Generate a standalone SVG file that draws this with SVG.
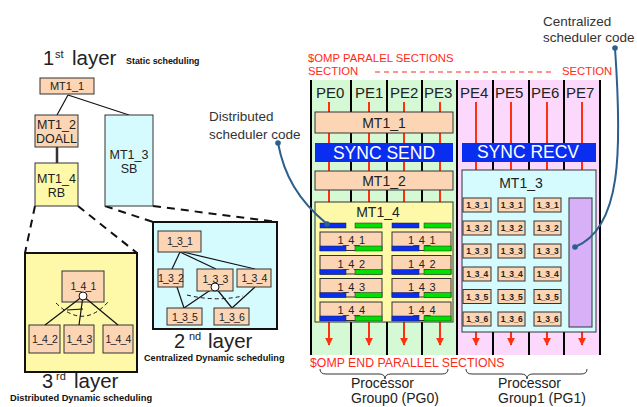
<svg xmlns="http://www.w3.org/2000/svg" width="637" height="407" viewBox="0 0 637 407">
<defs>
<style>
text{font-family:"Liberation Sans",Arial,sans-serif;fill:#222}
.pe{fill:#fcd5b4;stroke:#333;stroke-width:1}
.lbl{font-size:10.5px;letter-spacing:-0.8px;text-anchor:middle}
.lbl2{font-size:11px;letter-spacing:-0.7px;text-anchor:middle}
.sm{font-size:8.5px;font-weight:bold;letter-spacing:-0.4px;text-anchor:middle}
.mid{text-anchor:middle}
.red{fill:#ff2a1a}
.bold{font-weight:bold;fill:#111}
.col{stroke:#000;stroke-width:2}
.tick{stroke:#ff3010;stroke-width:2}
.ln{stroke:#111;stroke-width:1.2;fill:none}
.dash{stroke:#111;stroke-width:2;stroke-dasharray:8,6;fill:none}
.dash2{stroke:#111;stroke-width:1;stroke-dasharray:4,3;fill:none}
.bb{fill:#0a2ef0;stroke:#222;stroke-width:0.5}
.gb{fill:#00e000;stroke:#222;stroke-width:0.5}
.call{stroke:#2b5f8e;stroke-width:2;fill:none}
.dot{fill:#2b5f8e}
.brace{stroke:#333;stroke-width:1;fill:none}
</style>
<marker id="arr" viewBox="0 0 10 10" refX="9" refY="5" markerWidth="4" markerHeight="4" orient="auto">
<path d="M0,0 L10,5 L0,10 z" fill="#ff3010"/>
</marker>
</defs>

<!-- left tree -->
<g id="title1">
<text x="43" y="65" font-size="20">1</text><text x="55" y="58" font-size="11">st</text><text x="72" y="65" font-size="20.5">layer</text>
<text x="126" y="64" font-size="8.9" class="bold">Static scheduling</text>
</g>
<g id="tree-connectors">
<line class="ln" x1="68" y1="95" x2="57" y2="115"/>
<line class="ln" x1="68" y1="95" x2="129" y2="115"/>
<line x1="57" y1="147" x2="57" y2="163" stroke="#333" stroke-width="2.5"/>
<line class="dash" x1="35" y1="206" x2="25" y2="253"/>
<line class="dash" x1="78" y1="206" x2="137" y2="253"/>
<line class="dash" x1="105" y1="206" x2="153" y2="222"/>
<line class="dash" x1="153" y1="206" x2="277" y2="222"/>
</g>
<g id="t-mt1_1"><rect class="pe" x="40" y="78" width="54" height="16"/><text x="67" y="90" font-size="11" class="mid">MT1_1</text></g>
<g id="t-mt1_2"><rect class="pe" x="35" y="115" width="43" height="32"/><text x="56.5" y="129" font-size="12.5" class="mid">MT1_2</text><text x="56.5" y="143" font-size="12.5" class="mid">DOALL</text></g>
<g id="t-mt1_4"><rect x="35" y="163" width="43" height="43" fill="#fdf9a8" stroke="#333"/><text x="56.5" y="183" font-size="12.5" class="mid">MT1_4</text><text x="56.5" y="197" font-size="12.5" class="mid">RB</text></g>
<g id="t-mt1_3"><rect x="105" y="115" width="48" height="91" fill="#d5fbff" stroke="#333"/><text x="129" y="159" font-size="12.5" class="mid">MT1_3</text><text x="129" y="173" font-size="12.5" class="mid">SB</text></g>

<g id="layer3">
<rect x="25" y="253" width="112" height="119" fill="#fdf9a8" stroke="#111" stroke-width="2"/>
<g id="n141"><rect class="pe" x="62" y="271" width="42" height="31"/><text x="83" y="290" class="lbl">1_4_1</text></g>
<g id="n142"><rect class="pe" x="29" y="325" width="31" height="28"/><text x="44.5" y="343" class="lbl">1_4_2</text></g>
<g id="n143"><rect class="pe" x="64" y="325" width="30" height="28"/><text x="79" y="343" class="lbl">1_4_3</text></g>
<g id="n144"><rect class="pe" x="103" y="325" width="30" height="28"/><text x="118" y="343" class="lbl">1_4_4</text></g>
<g id="l3-edges">
<line class="ln" x1="83" y1="296" x2="45" y2="325"/>
<line class="ln" x1="83" y1="296" x2="79" y2="325"/>
<line class="ln" x1="83" y1="296" x2="118" y2="325"/>
<path class="dash2" d="M56,303 Q83,330 108,302"/>
<line class="ln" x1="67" y1="310" x2="83" y2="309"/>
</g>
<circle cx="83" cy="296" r="4" fill="#fff" stroke="#111"/>
</g>
<g id="title3">
<text x="42" y="388" font-size="20">3</text><text x="56" y="380" font-size="11">rd</text><text x="74" y="388" font-size="20.5">layer</text>
<text x="10" y="401" font-size="9.3" class="bold">Distributed Dynamic scheduling</text>
</g>

<g id="layer2">
<rect x="153" y="222" width="124" height="107" fill="#d5fbff" stroke="#111" stroke-width="2"/>
<g id="l2-edges">
<line class="ln" x1="180" y1="252" x2="172" y2="269"/>
<line class="ln" x1="180" y1="252" x2="216" y2="269"/>
<line class="ln" x1="183" y1="252" x2="255" y2="269"/>
<line class="ln" x1="177" y1="287" x2="184" y2="308"/>
<line class="ln" x1="215" y1="287" x2="184" y2="308"/>
<line class="ln" x1="215" y1="287" x2="232" y2="308"/>
<line class="ln" x1="255" y1="287" x2="232" y2="308"/>
<path class="dash2" d="M187,295 Q215,302 243,296"/>
</g>
<g id="n131"><rect class="pe" x="158" y="231" width="43" height="21"/><text x="179.5" y="245" class="lbl">1_3_1</text></g>
<g id="n132"><rect class="pe" x="158" y="269" width="25" height="18"/><text x="170.5" y="282" class="lbl">1_3_2</text></g>
<g id="n133"><rect class="pe" x="197" y="269" width="36" height="22"/><text x="215" y="283" class="lbl">1_3_3</text></g>
<g id="n134"><rect class="pe" x="237" y="269" width="34" height="18"/><text x="254" y="282" class="lbl">1_3_4</text></g>
<g id="n135"><rect class="pe" x="167" y="308" width="35" height="17"/><text x="184.5" y="321" class="lbl">1_3_5</text></g>
<g id="n136"><rect class="pe" x="214" y="308" width="35" height="17"/><text x="231.5" y="321" class="lbl">1_3_6</text></g>
<circle cx="215" cy="287" r="4" fill="#fff" stroke="#111"/>
</g>
<g id="title2">
<text x="174" y="348" font-size="20">2</text><text x="189" y="340" font-size="11">nd</text><text x="208" y="348" font-size="20.5">layer</text>
<text x="144" y="361" font-size="9.15" class="bold">Centralized Dynamic scheduling</text>
</g>

<!-- right: processor layout -->
<g id="pg-bg">
<rect x="311" y="80" width="146" height="275" fill="#d5f8d5"/>
<rect x="457" y="80" width="143" height="275" fill="#fcd8fc"/>
</g>
<g id="omp-text">
<text x="308" y="62" font-size="11.3" class="red">$OMP PARALEL SECTIONS</text>
<text x="308" y="75" font-size="11.3" class="red">SECTION</text>
<line x1="375" y1="72" x2="552" y2="72" stroke="#ff2a1a" stroke-width="1.2" stroke-dasharray="5,4"/>
<text x="562" y="75" font-size="11.3" class="red">SECTION</text>
<text x="310" y="367" font-size="12.3" class="red">$OMP END PARALLEL SECTIONS</text>
</g>
<g id="connectors">
<g id="pe-lines">
<line class="col" x1="311" y1="80" x2="311" y2="355"/>
<line class="col" x1="351" y1="80" x2="351" y2="355"/>
<line class="col" x1="387" y1="80" x2="387" y2="355"/>
<line class="col" x1="422" y1="80" x2="422" y2="355"/>
<line class="col" x1="457" y1="80" x2="457" y2="355"/>
<line class="col" x1="493" y1="80" x2="493" y2="355"/>
<line class="col" x1="529" y1="80" x2="529" y2="355"/>
<line class="col" x1="564" y1="80" x2="564" y2="355"/>
<line class="col" x1="600" y1="80" x2="600" y2="355"/>
</g>
<g id="ticks">
<line class="tick" x1="329" y1="102" x2="329" y2="202"/>
<line class="tick" x1="369" y1="102" x2="369" y2="202"/>
<line class="tick" x1="404" y1="102" x2="404" y2="202"/>
<line class="tick" x1="440" y1="102" x2="440" y2="202"/>
<line class="tick" x1="476" y1="102" x2="476" y2="170"/>
<line class="tick" x1="511" y1="102" x2="511" y2="170"/>
<line class="tick" x1="547" y1="102" x2="547" y2="170"/>
<line class="tick" x1="582" y1="102" x2="582" y2="170"/>
</g>
<g id="end-arrows">
<line class="tick" x1="329" y1="322" x2="329" y2="345" marker-end="url(#arr)"/>
<line class="tick" x1="369" y1="322" x2="369" y2="345" marker-end="url(#arr)"/>
<line class="tick" x1="404" y1="322" x2="404" y2="345" marker-end="url(#arr)"/>
<line class="tick" x1="440" y1="322" x2="440" y2="345" marker-end="url(#arr)"/>
<line class="tick" x1="476" y1="332" x2="476" y2="345" marker-end="url(#arr)"/>
<line class="tick" x1="511" y1="332" x2="511" y2="345" marker-end="url(#arr)"/>
<line class="tick" x1="547" y1="332" x2="547" y2="345" marker-end="url(#arr)"/>
<line class="tick" x1="582" y1="332" x2="582" y2="345" marker-end="url(#arr)"/>
</g>
</g>
<g id="pe-labels" font-size="15">
<text x="316" y="98">PE0</text><text x="355" y="98">PE1</text><text x="390" y="98">PE2</text><text x="424" y="98">PE3</text>
<text x="460" y="98">PE4</text><text x="495" y="98">PE5</text><text x="531" y="98">PE6</text><text x="566" y="98">PE7</text>
</g>
<g id="r-mt1_1"><rect class="pe" x="315" y="112" width="138" height="21"/><text x="384" y="128" font-size="14" class="mid">MT1_1</text></g>
<g id="sync-send"><rect x="315" y="143" width="138" height="19" fill="#0a2ef0"/><text x="384" y="159" font-size="17.5" class="mid" style="fill:#fff">SYNC SEND</text></g>
<g id="sync-recv"><rect x="462" y="143" width="134" height="19" fill="#0a2ef0"/><text x="528" y="158" font-size="17.5" class="mid" style="fill:#fff">SYNC RECV</text></g>
<g id="r-mt1_2"><rect class="pe" x="315" y="171" width="138" height="19"/><text x="384" y="186" font-size="14" class="mid">MT1_2</text></g>

<g id="r-mt1_4">
<rect x="315" y="202" width="138" height="120" fill="#fdf9a8" stroke="#333"/>
<text x="378" y="217" font-size="14" class="mid">MT1_4</text>
<rect class="bb" x="320" y="223" width="26" height="5"/><rect class="gb" x="355" y="223" width="27" height="5"/>
<rect class="bb" x="392" y="223" width="27" height="5"/><rect class="gb" x="424" y="223" width="27" height="5"/>
<g id="r141">
<rect class="pe" x="320" y="232" width="62" height="18.5"/><text x="351" y="244" class="lbl2">1_4_1</text>
<rect class="bb" x="320" y="246" width="26" height="5"/><rect class="gb" x="355" y="246" width="27" height="5"/>
<rect class="pe" x="392" y="232" width="59" height="18.5"/><text x="421.5" y="244" class="lbl2">1_4_1</text>
<rect class="bb" x="392" y="246" width="27" height="5"/><rect class="gb" x="424" y="246" width="27" height="5"/>
</g>
<g id="r142">
<rect class="pe" x="320" y="255.5" width="62" height="18.5"/><text x="351" y="267.5" class="lbl2">1_4_2</text>
<rect class="bb" x="320" y="269.5" width="26" height="5"/><rect class="gb" x="355" y="269.5" width="27" height="5"/>
<rect class="pe" x="392" y="255.5" width="59" height="18.5"/><text x="421.5" y="267.5" class="lbl2">1_4_2</text>
<rect class="bb" x="392" y="269.5" width="27" height="5"/><rect class="gb" x="424" y="269.5" width="27" height="5"/>
</g>
<g id="r143">
<rect class="pe" x="320" y="278.5" width="62" height="18.5"/><text x="351" y="290.5" class="lbl2">1_4_3</text>
<rect class="bb" x="320" y="292.5" width="26" height="5"/><rect class="gb" x="355" y="292.5" width="27" height="5"/>
<rect class="pe" x="392" y="278.5" width="59" height="18.5"/><text x="421.5" y="290.5" class="lbl2">1_4_3</text>
<rect class="bb" x="392" y="292.5" width="27" height="5"/><rect class="gb" x="424" y="292.5" width="27" height="5"/>
</g>
<g id="r144">
<rect class="pe" x="320" y="302" width="62" height="18.5"/><text x="351" y="314" class="lbl2">1_4_4</text>
<rect class="bb" x="320" y="316" width="26" height="5"/><rect class="gb" x="355" y="316" width="27" height="5"/>
<rect class="pe" x="392" y="302" width="59" height="18.5"/><text x="421.5" y="314" class="lbl2">1_4_4</text>
<rect class="bb" x="392" y="316" width="27" height="5"/><rect class="gb" x="424" y="316" width="27" height="5"/>
</g>
</g>

<g id="r-mt1_3">
<rect x="462" y="170" width="134" height="162" fill="#d5fbff" stroke="#333"/>
<text x="521" y="188" font-size="14" class="mid">MT1_3</text>
<g id="r13-grid">
<rect class="pe" x="463" y="198" width="28" height="14"/><rect class="pe" x="498" y="198" width="27" height="14"/><rect class="pe" x="534" y="198" width="27" height="14"/>
<text x="477" y="208" class="sm">1_3_1</text><text x="511.5" y="208" class="sm">1_3_1</text><text x="547.5" y="208" class="sm">1_3_1</text>
<rect class="pe" x="463" y="221" width="28" height="14"/><rect class="pe" x="498" y="221" width="27" height="14"/><rect class="pe" x="534" y="221" width="27" height="14"/>
<text x="477" y="231" class="sm">1_3_2</text><text x="511.5" y="231" class="sm">1_3_2</text><text x="547.5" y="231" class="sm">1_3_2</text>
<rect class="pe" x="463" y="244" width="28" height="14"/><rect class="pe" x="498" y="244" width="27" height="14"/><rect class="pe" x="534" y="244" width="27" height="14"/>
<text x="477" y="254" class="sm">1_3_3</text><text x="511.5" y="254" class="sm">1_3_3</text><text x="547.5" y="254" class="sm">1_3_3</text>
<rect class="pe" x="463" y="267" width="28" height="14"/><rect class="pe" x="498" y="267" width="27" height="14"/><rect class="pe" x="534" y="267" width="27" height="14"/>
<text x="477" y="277" class="sm">1_3_4</text><text x="511.5" y="277" class="sm">1_3_4</text><text x="547.5" y="277" class="sm">1_3_4</text>
<rect class="pe" x="463" y="289.5" width="28" height="14"/><rect class="pe" x="498" y="289.5" width="27" height="14"/><rect class="pe" x="534" y="289.5" width="27" height="14"/>
<text x="477" y="299.5" class="sm">1_3_5</text><text x="511.5" y="299.5" class="sm">1_3_5</text><text x="547.5" y="299.5" class="sm">1_3_5</text>
<rect class="pe" x="463" y="312" width="28" height="14"/><rect class="pe" x="498" y="312" width="27" height="14"/><rect class="pe" x="534" y="312" width="27" height="14"/>
<text x="477" y="322" class="sm">1_3_6</text><text x="511.5" y="322" class="sm">1_3_6</text><text x="547.5" y="322" class="sm">1_3_6</text>
</g>
<rect id="central-code" x="569" y="198" width="23" height="129" fill="#d8b0f8" stroke="#333"/>
</g>

<g id="braces">
<path class="brace" d="M320,369 Q320,374 326,374 L379,374 Q385,374 385,379 Q385,374 391,374 L442,374 Q448,374 448,369"/>
<path class="brace" d="M466,369 Q466,374 472,374 L521,374 Q527,374 527,379 Q527,374 533,374 L581,374 Q587,374 587,369"/>
</g>
<g id="pg-labels" font-size="14">
<text x="351" y="388">Processor</text><text x="351" y="403">Group0 (PG0)</text>
<text x="498" y="388">Processor</text><text x="498" y="403">Group1 (PG1)</text>
</g>

<g id="callout-dist">
<text x="209" y="121" font-size="13.5" style="fill:#333">Distributed</text>
<text x="209" y="139" font-size="13.5" style="fill:#333">scheduler code</text>
<path class="call" d="M278,143 C284,175 298,200 327,224"/>
<circle class="dot" cx="278" cy="143" r="2.8"/><circle class="dot" cx="327" cy="224" r="2.8"/>
</g>
<g id="callout-cent">
<text x="543" y="26" font-size="13.5" style="fill:#333">Centralized</text>
<text x="543" y="42" font-size="13.5" style="fill:#333">scheduler code</text>
<path class="call" d="M615,48 C622,150 622,228 575,247"/>
<circle class="dot" cx="615" cy="48" r="2.8"/><circle class="dot" cx="575" cy="247" r="2.8"/>
</g>
</svg>
